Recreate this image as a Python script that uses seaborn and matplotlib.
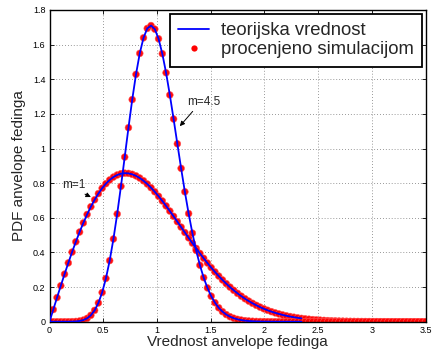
import matplotlib
matplotlib.use("Agg")
import matplotlib.pyplot as plt
from matplotlib.lines import Line2D
import seaborn as sns
import pandas as pd

# envelope values (bin positions of the estimate)
x_vals = [0.000, 0.035, 0.070, 0.105, 0.140, 0.175, 0.210, 0.245, 0.280, 0.315,
          0.350, 0.385, 0.420, 0.455, 0.490, 0.525, 0.560, 0.595, 0.630, 0.665,
          0.700, 0.735, 0.770, 0.805, 0.840, 0.875, 0.910, 0.945, 0.980, 1.015,
          1.050, 1.085, 1.120, 1.155, 1.190, 1.225, 1.260, 1.295, 1.330, 1.365,
          1.400, 1.435, 1.470, 1.505, 1.540, 1.575, 1.610, 1.645, 1.680, 1.715,
          1.750, 1.785, 1.820, 1.855, 1.890, 1.925, 1.960, 1.995, 2.030, 2.065,
          2.100, 2.135, 2.170, 2.205, 2.240, 2.275, 2.310, 2.345, 2.380, 2.415,
          2.450, 2.485, 2.520, 2.555, 2.590, 2.625, 2.660, 2.695, 2.730, 2.765,
          2.800, 2.835, 2.870, 2.905, 2.940, 2.975, 3.010, 3.045, 3.080, 3.115,
          3.150, 3.185, 3.220, 3.255, 3.290, 3.325, 3.360, 3.395, 3.430, 3.465,
          3.500]

# PDF, m = 1
pdf_m1 = [0.0000, 0.0699, 0.1393, 0.2077, 0.2746, 0.3394, 0.4019, 0.4615, 0.5178, 0.5705,
          0.6193, 0.6639, 0.7042, 0.7398, 0.7708, 0.7971, 0.8185, 0.8352, 0.8472, 0.8547,
          0.8577, 0.8565, 0.8512, 0.8422, 0.8296, 0.8138, 0.7951, 0.7738, 0.7502, 0.7245,
          0.6973, 0.6687, 0.6389, 0.6085, 0.5775, 0.5463, 0.5151, 0.4841, 0.4536, 0.4236,
          0.3944, 0.3661, 0.3388, 0.3125, 0.2875, 0.2637, 0.2411, 0.2198, 0.1998, 0.1811,
          0.1637, 0.1475, 0.1326, 0.1188, 0.1062, 0.0946, 0.0841, 0.0746, 0.0659, 0.0581,
          0.0511, 0.0448, 0.0391, 0.0341, 0.0297, 0.0257, 0.0222, 0.0192, 0.0165, 0.0142,
          0.0121, 0.0103, 0.0088, 0.0075, 0.0063, 0.0053, 0.0045, 0.0038, 0.0032, 0.0026,
          0.0022, 0.0018, 0.0015, 0.0012, 0.0010, 0.0008, 0.0006, 0.0005, 0.0004, 0.0003,
          0.0003, 0.0002, 0.0002, 0.0001, 0.0001, 0.0001, 0.0001, 0.0000, 0.0000, 0.0000,
          0.0000]

# PDF, m = 4.5
pdf_m45 = [0.0000, 0.0000, 0.0000, 0.0000, 0.0000, 0.0001, 0.0005, 0.0015, 0.0040, 0.0093,
           0.0194, 0.0371, 0.0655, 0.1082, 0.1687, 0.2497, 0.3528, 0.4777, 0.6221, 0.7819,
           0.9507, 1.1203, 1.2826, 1.4282, 1.5493, 1.6394, 1.6936, 1.7102, 1.6895, 1.6338,
           1.5477, 1.4375, 1.3094, 1.1706, 1.0273, 0.8856, 0.7501, 0.6245, 0.5113, 0.4117,
           0.3262, 0.2543, 0.1951, 0.1474, 0.1097, 0.0804, 0.0580, 0.0413, 0.0289, 0.0200,
           0.0136, 0.0092, 0.0061, 0.0040, 0.0025, 0.0016, 0.0010, 0.0006, 0.0004, 0.0002,
           0.0001, 0.0000, 0.0000, 0.0000, 0.0000, 0.0000, 0.0000, 0.0000, 0.0000, 0.0000,
           0.0000, 0.0000, 0.0000, 0.0000, 0.0000, 0.0000, 0.0000, 0.0000, 0.0000, 0.0000,
           0.0000, 0.0000, 0.0000, 0.0000, 0.0000, 0.0000, 0.0000, 0.0000, 0.0000, 0.0000,
           0.0000, 0.0000, 0.0000, 0.0000, 0.0000, 0.0000, 0.0000, 0.0000, 0.0000, 0.0000,
           0.0000]

n_theory = 68  # theoretical curve drawn up to x ~ 2.35

x_ticks = [0, 0.5, 1, 1.5, 2, 2.5, 3, 3.5]
x_tick_labels = ["0", "0.5", "1", "1.5", "2", "2.5", "3", "3.5"]
y_ticks = [0, 0.2, 0.4, 0.6, 0.8, 1, 1.2, 1.4, 1.6, 1.8]
y_tick_labels = ["0", "0.2", "0.4", "0.6", "0.8", "1", "1.2", "1.4", "1.6", "1.8"]

legend_labels = ["teorijska vrednost", "procenjeno simulacijom"]
x_label = "Vrednost anvelope fedinga"
y_label = "PDF anvelope fedinga"

sim = pd.DataFrame({
    "x": x_vals + x_vals,
    "pdf": pdf_m1 + pdf_m45,
    "m": ["1"] * len(x_vals) + ["4.5"] * len(x_vals),
})
theory = sim[sim["x"] <= x_vals[n_theory - 1] + 1e-9]

sns.set_style("ticks")
plt.rcParams["font.family"] = ["Liberation Sans", "DejaVu Sans"]

fig = plt.figure(figsize=(4.32, 3.52), dpi=100)
ax = fig.add_axes([0.1146, 0.0861, 0.8704, 0.8855])

sns.scatterplot(data=sim, x="x", y="pdf", style="m", markers=["o", "o"],
                color="#ff0000", s=24, linewidth=0.4, edgecolor="#ff5a5a",
                alpha=0.95, ax=ax, legend=False, zorder=2)
sns.lineplot(data=theory, x="x", y="pdf", units="m", estimator=None,
             color="#0000ff", linewidth=1.3, ax=ax, legend=False, zorder=3,
             sort=False)

ax.set_xlim(0, 3.5)
ax.set_ylim(0, 1.8)
ax.set_xticks(x_ticks)
ax.set_xticklabels(x_tick_labels)
ax.set_yticks(y_ticks)
ax.set_yticklabels(y_tick_labels)
ax.tick_params(direction="in", length=3, width=0.6, labelsize=6.5, top=True,
               right=True, pad=3, colors="black")
ax.grid(True, linestyle=(0, (1, 2.5)), color="#777777", linewidth=0.6)
for sp in ax.spines.values():
    sp.set_visible(True)
    sp.set_color("black")
    sp.set_linewidth(1.0)

ax.set_xlabel(x_label, fontsize=11, labelpad=0)
ax.set_ylabel(y_label, fontsize=11, labelpad=5)

ax.annotate("m=4.5", xy=(1.213, 1.129), xytext=(1.28, 1.268),
            fontsize=8.5, va="center", ha="left",
            arrowprops=dict(arrowstyle="-|>", color="black", lw=0.7,
                            mutation_scale=7, shrinkA=0, shrinkB=0,
                            relpos=(0.35, 0.3)))
ax.annotate("m=1", xy=(0.385, 0.72), xytext=(0.115, 0.79),
            fontsize=8.5, va="center", ha="left",
            arrowprops=dict(arrowstyle="-|>", color="black", lw=0.7,
                            mutation_scale=7, shrinkA=0, shrinkB=0,
                            relpos=(0.7, 0.0)))

handles = [Line2D([0], [0], color="#0000ff", lw=1.3),
           Line2D([0], [0], color="#ff0000", marker="o", ms=4.5, lw=0, mew=0)]
leg = ax.legend(handles, legend_labels, loc="upper right",
                bbox_to_anchor=(0.99, 0.987), borderaxespad=0, fontsize=13.3,
                frameon=True, fancybox=False, framealpha=1, edgecolor="black",
                handlelength=1.65, handletextpad=0.63, borderpad=0.45,
                labelspacing=0.1)
leg.get_frame().set_linewidth(1.3)
leg.set_zorder(5)

fig.savefig("out.png", dpi=100)
